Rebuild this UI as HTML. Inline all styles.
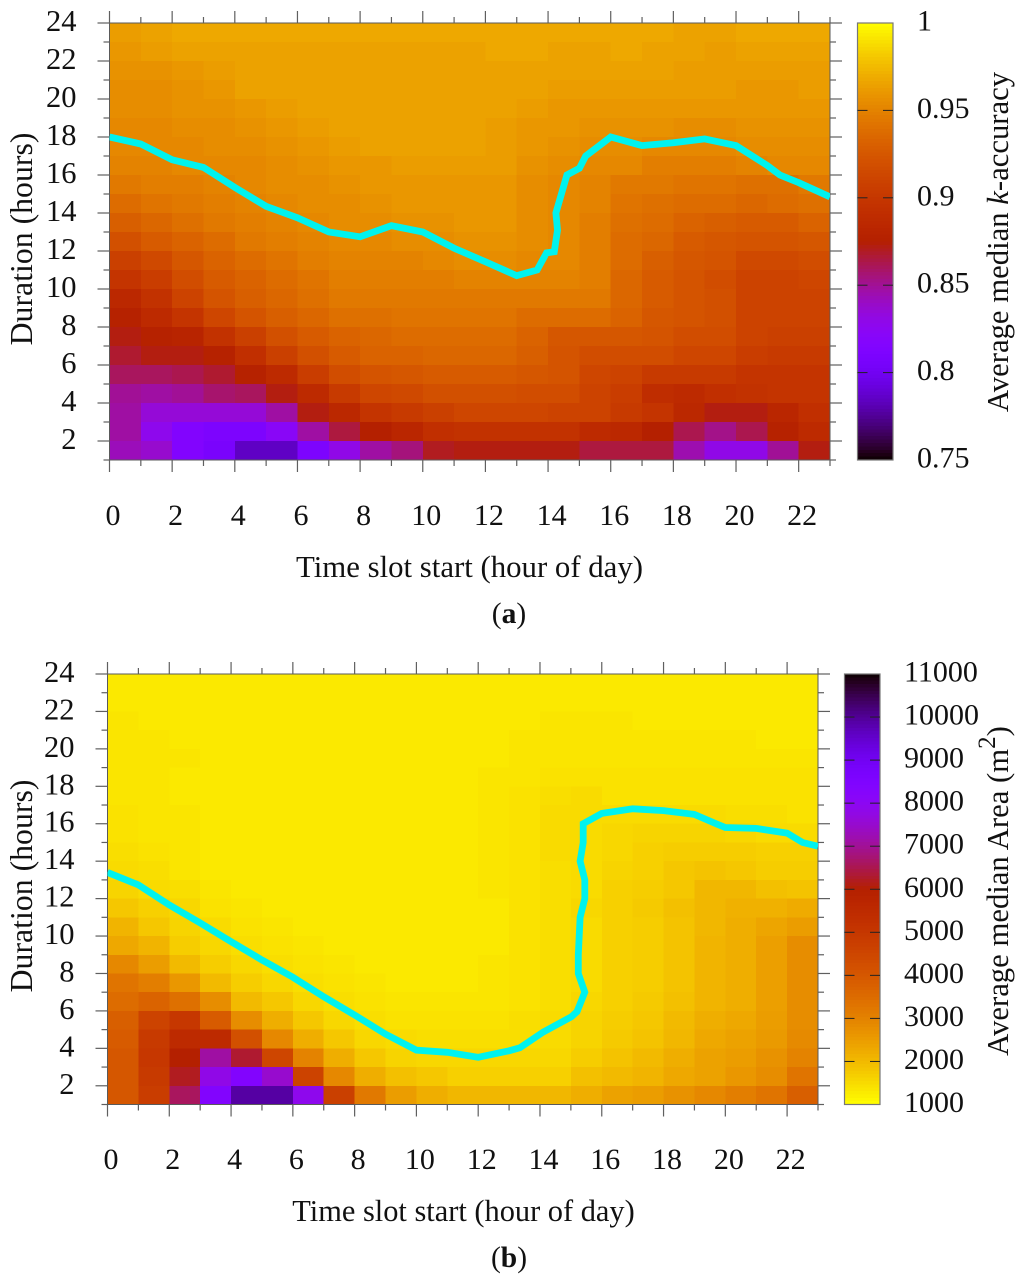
<!DOCTYPE html>
<html lang="en">
<head>
<meta charset="utf-8">
<title>Average median k-accuracy and area heatmaps</title>
<style>
html,body{margin:0;padding:0;background:#fff;}
svg{display:block;}
text{font-family:"Liberation Serif","Times New Roman",serif;fill:#111;}
</style>
</head>
<body>
<svg id="figure" xmlns="http://www.w3.org/2000/svg" width="1024" height="1282" viewBox="0 0 1024 1282"></svg>
<script>
// Panel (a): percent of the colour-bar range (0 = 0.75, 100 = 1.0). Rows run top (23-24 h) to bottom (1-2 h).
const accuracyRows = [
[85,86,87,87,87,87,87,87,87,87,87,87,87,87,87,87,87,87,86,86,87,87,87],
[84,85,86,86,86,86,86,86,86,86,86,86,87,87,86,86,87,86,86,85,86,86,86],
[83,83,84,85,86,86,86,86,86,86,86,86,86,86,86,86,86,86,85,85,85,85,85],
[82,82,83,84,86,86,86,86,86,86,86,86,86,86,85,85,85,85,85,85,84,84,85],
[82,82,83,83,84,85,86,86,86,86,86,86,86,85,84,84,84,84,84,84,84,84,84],
[81,81,82,82,83,84,85,86,86,86,86,86,85,84,84,83,83,83,82,82,83,83,83],
[81,81,81,82,82,83,84,85,86,86,86,86,85,84,83,82,82,81,81,81,82,82,82],
[80,80,81,81,81,82,83,84,84,85,85,85,85,83,82,81,81,79,79,79,80,81,81],
[78,79,79,80,81,82,82,83,84,84,84,84,84,82,81,80,78,78,77,77,76,76,78],
[75,77,78,79,80,81,82,82,83,84,84,84,84,82,81,80,77,76,75,75,74,75,76],
[72,74,76,78,79,80,81,82,82,83,83,84,84,82,81,79,76,75,73,72,71,71,73],
[68,71,73,75,78,79,80,81,81,82,82,83,83,82,81,79,75,74,71,70,69,69,70],
[63,66,70,73,75,77,79,80,80,80,81,82,82,81,81,79,75,72,70,69,66,66,67],
[59,62,67,71,73,75,77,79,79,79,79,80,80,80,80,79,74,71,69,67,64,64,65],
[54,58,64,69,72,74,76,78,78,78,78,78,78,78,78,78,74,71,69,68,64,64,64],
[51,55,59,65,69,72,74,76,76,77,77,77,77,75,75,75,73,70,69,68,64,64,64],
[49,51,52,58,63,68,71,73,74,75,75,75,75,73,70,70,70,69,67,67,64,63,63],
[47,49,49,51,57,63,68,71,73,73,74,74,74,72,69,67,67,67,65,65,62,61,61],
[44,44,45,47,51,55,62,67,69,70,71,71,71,70,69,65,64,61,61,61,59,59,59],
[40,39,40,43,44,49,55,61,65,66,68,68,68,67,67,64,62,56,55,57,58,59,59],
[39,34,34,34,34,39,49,54,59,61,63,65,65,65,64,64,61,59,54,49,49,53,57],
[39,31,26,24,24,29,39,46,50,53,57,58,58,58,58,55,54,50,45,41,45,51,55],
[37,35,26,23,14,14,24,32,39,42,48,49,49,49,49,46,46,46,38,32,32,40,49]
];
// Panel (b): median area in m2. Rows run top (23-24 h) to bottom (1-2 h).
const areaRows = [
[1300,1300,1300,1300,1300,1300,1300,1300,1300,1300,1300,1300,1300,1300,1300,1300,1300,1300,1300,1300,1300,1300,1300],
[1300,1300,1300,1300,1300,1300,1300,1300,1300,1300,1300,1300,1300,1300,1300,1300,1300,1300,1300,1300,1300,1300,1300],
[1350,1300,1300,1300,1300,1300,1300,1300,1300,1300,1300,1300,1300,1300,1350,1350,1350,1300,1300,1300,1300,1300,1300],
[1350,1350,1300,1300,1300,1300,1300,1300,1300,1300,1300,1300,1300,1350,1350,1350,1350,1350,1350,1350,1350,1300,1300],
[1350,1350,1350,1300,1300,1300,1300,1300,1300,1300,1300,1300,1300,1350,1350,1350,1350,1350,1350,1350,1350,1350,1350],
[1350,1350,1300,1300,1300,1300,1300,1300,1300,1300,1300,1300,1350,1350,1400,1400,1400,1400,1400,1400,1400,1400,1400],
[1350,1350,1300,1300,1300,1300,1300,1300,1300,1300,1300,1300,1350,1400,1450,1500,1400,1400,1400,1400,1400,1400,1400],
[1400,1350,1350,1300,1300,1300,1300,1300,1300,1300,1300,1300,1350,1400,1500,1500,1500,1500,1500,1500,1450,1450,1400],
[1400,1350,1350,1300,1300,1300,1300,1300,1300,1300,1300,1300,1350,1400,1500,1500,1550,1600,1600,1600,1550,1500,1500],
[1450,1400,1350,1300,1300,1300,1300,1300,1300,1300,1300,1300,1350,1400,1500,1500,1550,1650,1700,1700,1700,1650,1650],
[1500,1450,1350,1300,1300,1300,1300,1300,1300,1300,1300,1300,1350,1400,1450,1500,1600,1650,1800,1850,1800,1700,1700],
[1600,1500,1450,1350,1300,1300,1300,1300,1300,1300,1300,1300,1350,1400,1450,1500,1650,1700,1800,2050,2050,1900,1850],
[1800,1650,1550,1400,1350,1300,1300,1300,1300,1300,1300,1300,1300,1400,1450,1550,1650,1750,1900,2050,2150,2150,2250],
[2100,1800,1600,1500,1400,1350,1300,1300,1300,1300,1300,1300,1300,1400,1450,1500,1650,1700,1850,2050,2200,2350,2500],
[2300,2100,1700,1550,1450,1400,1350,1300,1300,1300,1300,1300,1300,1400,1450,1500,1650,1700,1850,2100,2200,2450,2800],
[2900,2500,2000,1700,1550,1450,1400,1350,1300,1300,1300,1300,1350,1400,1450,1500,1650,1700,1850,2100,2200,2450,2800],
[3300,3100,2600,2000,1700,1550,1450,1400,1350,1300,1300,1300,1350,1400,1450,1500,1650,1700,1850,2100,2200,2450,2800],
[3500,3700,3400,2800,2000,1800,1550,1450,1400,1350,1350,1350,1350,1400,1450,1550,1650,1750,1900,2100,2200,2450,2800],
[3800,4600,5000,3900,2800,2200,1800,1550,1450,1400,1400,1400,1400,1450,1500,1600,1700,1800,2000,2200,2300,2500,2800],
[3900,4900,5500,5500,4200,2900,2200,1800,1550,1500,1450,1450,1450,1450,1500,1600,1750,1850,2050,2300,2400,2550,2850],
[4000,5000,6000,7100,6300,4500,3000,2200,1800,1600,1550,1550,1550,1550,1550,1700,1850,2000,2200,2400,2500,2700,3000],
[4000,4900,6200,7800,8400,7500,4600,2900,2200,1900,1800,1650,1650,1650,1650,1900,2000,2100,2300,2400,2600,2800,3300],
[4000,4800,6600,8400,9900,9900,7900,4700,3200,2500,2200,2050,2050,2050,2050,2200,2400,2500,2700,2900,3100,3300,3800]
];
const accuracyLineHours = [0,1,2,3,4,5,6,7,8,9,10,11,12,13,13.65,13.95,14.2,14.3,14.25,14.6,15,15.2,16,17,18,19,20,21,21.4,22,23];
const accuracyLineDuration = [18,17.63,16.8,16.4,15.35,14.35,13.75,13,12.75,13.33,13,12.15,11.43,10.7,11,11.9,11.96,13.1,14,16,16.35,17,18,17.55,17.7,17.9,17.55,16.5,16,15.6,14.85];
const areaLineHours = [0,1,2,3,4,5,6,7,8,9,10,11,12,13,13.35,14.1,15.02,15.2,15.45,15.24,15.24,15.3,15.45,15.45,15.3,15.4,15.4,16,17,18,19,19.7,20,21,22,22.5,23];
const areaLineDuration = [13.4,12.73,11.66,10.7,9.7,8.72,7.8,6.76,5.78,4.76,3.9,3.79,3.52,3.87,4.03,4.87,5.69,5.96,7,8,9,11,12,13,14,15,16,16.55,16.8,16.7,16.5,16,15.8,15.75,15.5,15,14.8];
const xTickLabels = [0,2,4,6,8,10,12,14,16,18,20,22];
const yTickLabels = [2,4,6,8,10,12,14,16,18,20,22,24];
const accuracyBarLabels = ["1","0.95","0.9","0.85","0.8","0.75"];
const accuracyBarValues = [1,0.95,0.9,0.85,0.8,0.75];
const areaBarValues = [11000,10000,9000,8000,7000,6000,5000,4000,3000,2000,1000];

const SVG_NS = "http://www.w3.org/2000/svg";
const root = document.getElementById("figure");

function make(tag, attrs, parent, txt) {
  const el = document.createElementNS(SVG_NS, tag);
  for (const k in attrs) el.setAttribute(k, attrs[k]);
  if (txt !== undefined) el.textContent = txt;
  (parent || root).appendChild(el);
  return el;
}
function palette(t) {
  t = Math.max(0, Math.min(1, t));
  const r = Math.sqrt(t), g = t * t * t, b = Math.max(0, Math.sin(2 * Math.PI * t));
  return "rgb(" + Math.round(r * 255) + "," + Math.round(g * 255) + "," + Math.round(b * 255) + ")";
}

function drawPanel(p) {
  const x = h => p.left + (p.right - p.left) * h / 23;
  const y = d => p.bottom - (p.bottom - p.top) * (d - 1) / 23;
  const g = make("g", {});
  
  

  // clip for the line
  const clip = make("clipPath", {id: p.id + "-clip"}, g);
  make("rect", {x: x(0), y: y(24), width: x(23) - x(0), height: y(1) - y(24)}, clip);

  // heatmap
  const heat = make("g", {"shape-rendering": "crispEdges"}, g);
  
  
  p.rows.forEach((row, ri) => {
    const d = 23 - ri;
    row.forEach((v, c) => {
      const cell = make("rect", {
        x: x(c), y: y(d + 1), width: x(c + 1) - x(c) + 0.5, height: y(d) - y(d + 1) + 0.5,
        fill: palette(p.valueToT(v))
      }, heat);
      
      
    });
  });

  // frame
  const frame = make("rect", {x: x(0), y: y(24), width: x(23) - x(0), height: y(1) - y(24), fill: "none", stroke: "#5a5a5a", "stroke-width": 1}, g);
  
  

  // ticks
  const ticks = make("g", {stroke: "#5f5f5f", "stroke-width": 1.2}, g);
  
  
  for (let h = 0; h <= 23; h++) {
    const len = h % 2 === 0 ? 12 : 6;
    make("line", {x1: x(h), x2: x(h), y1: y(24) - len, y2: y(24)}, ticks);
    make("line", {x1: x(h), x2: x(h), y1: y(1), y2: y(1) + len}, ticks);
  }
  for (let d = 1; d <= 24; d++) {
    const len = d % 2 === 0 ? 12 : 6;
    make("line", {x1: x(0) - len, x2: x(0), y1: y(d), y2: y(d)}, ticks);
    make("line", {x1: x(23), x2: x(23) + len, y1: y(d), y2: y(d)}, ticks);
  }

  // tick labels
  xTickLabels.forEach(v => {
    const t = make("text", {x: x(v) + 3.5, y: p.xLabelY, "text-anchor": "middle", "font-size": 30}, g, String(v));
    
    
  });
  yTickLabels.forEach(v => {
    const t = make("text", {x: p.left - 33, y: y(v) + 8, "text-anchor": "end", "font-size": 30.5}, g, String(v));
    
    
  });

  // axis titles
  const xt = make("text", {x: p.xTitleX, y: p.xTitleY, "text-anchor": "middle", "font-size": p.xTitleSize}, g, "Time slot start (hour of day)");
  
  
  const yt = make("text", {transform: "translate(32," + p.yTitleY + ") rotate(-90)", "text-anchor": "middle", "font-size": 31.8}, g, "Duration (hours)");
  
  

  // line
  const pts = p.lineHours.map((h, i) => x(h).toFixed(1) + "," + y(p.lineDuration[i]).toFixed(1)).join(" ");
  const line = make("polyline", {points: pts, fill: "none", stroke: "#00f2ee", "stroke-width": 6.8, "stroke-linejoin": "miter", "clip-path": "url(#" + p.id + "-clip)"}, g);
  
  

  // colour bar
  const bar = make("g", {}, g);
  
  
  const steps = 128;
  const h = (p.barBottom - p.barTop) / steps;
  const strip = make("g", {"shape-rendering": "crispEdges"}, bar);
  for (let i = 0; i < steps; i++) {
    const f = (i + 0.5) / steps;
    const t = p.barYellowOnTop ? 1 - f : f;
    make("rect", {x: p.barLeft, y: p.barTop + i * h, width: p.barRight - p.barLeft, height: h + 0.6, fill: palette(t)}, strip);
  }
  make("rect", {x: p.barLeft, y: p.barTop, width: p.barRight - p.barLeft, height: p.barBottom - p.barTop, fill: "none", stroke: "#777", "stroke-width": 1.2}, bar);
  p.barValues.forEach((v, i) => {
    const yy = p.barTop + (p.barBottom - p.barTop) * (1 - p.barValueToF(v));
    if (i > 0 && i < p.barValues.length - 1) {
      make("line", {x1: p.barLeft, x2: p.barLeft + 10, y1: yy, y2: yy, stroke: "#222", "stroke-width": 1}, bar);
      make("line", {x1: p.barRight - 10, x2: p.barRight, y1: yy, y2: yy, stroke: "#222", "stroke-width": 1}, bar);
    }
    const t = make("text", {x: p.barLabelX, y: yy + 7.5, "font-size": 30}, bar, p.barLabels ? p.barLabels[i] : String(v));
    
    
  });

  // colour bar title
  const ct = make("text", {transform: "translate(1008," + p.barTitleY + ") rotate(-90)", "text-anchor": "middle", "font-size": 30.7}, g);
  
  
  p.barTitle(ct);

  // caption
  const cap = make("text", {x: p.capX, y: p.capY, "text-anchor": "middle", "font-size": 29.5}, g);
  
  
  make("tspan", {}, cap, "(");
  make("tspan", {"font-weight": "bold"}, cap, p.cap);
  make("tspan", {}, cap, ")");
}

drawPanel({
  id: "accuracy", rows: accuracyRows, valueToT: v => v / 100,
  left: 109.5, right: 830, top: 23, bottom: 460,
  xLabelY: 525, xTitleX: 469.5, xTitleY: 577, xTitleSize: 30.8, yTitleY: 239,
  lineHours: accuracyLineHours, lineDuration: accuracyLineDuration,
  barLeft: 857.5, barRight: 893, barTop: 23, barBottom: 460, barYellowOnTop: true,
  barValues: accuracyBarValues, barLabels: accuracyBarLabels,
  barValueToF: v => (v - 0.75) / 0.25, barLabelX: 917, barTitleY: 242,
  barTitle: function (ct) {
    make("tspan", {}, ct, "Average median ");
    make("tspan", {"font-style": "italic"}, ct, "k");
    make("tspan", {}, ct, "-accuracy");
  },
  cap: "a", capX: 509, capY: 623
});

drawPanel({
  id: "area", rows: areaRows, valueToT: v => (11000 - v) / 10000,
  left: 107.5, right: 818, top: 674, bottom: 1104.5,
  xLabelY: 1169, xTitleX: 463.5, xTitleY: 1221, xTitleSize: 30.4, yTitleY: 886,
  lineHours: areaLineHours, lineDuration: areaLineDuration,
  barLeft: 844.5, barRight: 880, barTop: 674, barBottom: 1104.5, barYellowOnTop: false,
  barValues: areaBarValues, barValueToF: v => (v - 1000) / 10000, barLabelX: 904, barTitleY: 891,
  barTitle: function (ct) {
    make("tspan", {}, ct, "Average median Area (m");
    make("tspan", {dy: -13, "font-size": 25}, ct, "2");
    make("tspan", {dy: 13}, ct, ")");
  },
  cap: "b", capX: 509, capY: 1267
});
</script>
</body>
</html>
